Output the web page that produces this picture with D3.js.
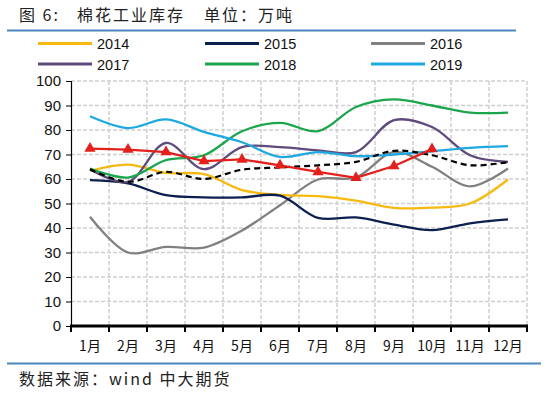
<!DOCTYPE html>
<html><head><meta charset="utf-8">
<script src="https://cdn.jsdelivr.net/npm/d3@7"></script>
<style>
html,body{margin:0;padding:0;background:#fff;}
svg{display:block;}
</style>
</head><body>
<svg id="chart" width="550" height="398"></svg>
<script>
const months = ["1月","2月","3月","4月","5月","6月","7月","8月","9月","10月","11月","12月"];
const yTicks = [0,10,20,30,40,50,60,70,80,90,100];
const s2014 = [63.3,65.9,62.5,62,55.5,53.5,53,51.2,48.2,48.3,50,59.8];
const s2015 = [59.5,58.2,53.4,52.5,52.5,53.2,44.1,44.3,41.4,39.1,41.9,43.5];
const s2016 = [44.6,30,32.3,32,39,49.3,59.8,60.6,71,65,57,64.3];
const s2017 = [64,58.8,74.7,64,73,73,71.7,71,84,81.2,69.7,67];
const s2018 = [64.3,60.6,67.7,69.7,79.5,82.9,79.5,89.4,92.5,90,87.1,87.1];
const s2019 = [85.6,80.8,84.3,79.2,75,69,71,69.3,70,71.3,72.7,73.4];
const sRed = [72.4,72,71,67.3,68,65.6,62.9,60.5,65.3,72.2];
const sDash = [64,58.8,62.9,60,63.8,64.7,65.6,67,71.5,69.7,65.6,66.9];
const legendNames = ["2014","2015","2016","2017","2018","2019"];

const colors = {"2014":"#f7b80f","2015":"#0c1f4f","2016":"#808080","2017":"#5f4b7c","2018":"#1ba64e","2019":"#1fa9e1"};
const seriesList = [
  {name:"2014", values:s2014},
  {name:"2015", values:s2015},
  {name:"2016", values:s2016},
  {name:"2017", values:s2017},
  {name:"2018", values:s2018},
  {name:"2019", values:s2019}
];

const svg = d3.select("#chart");
const cjk = "'Noto Sans CJK SC', sans-serif";
const lat = "'Liberation Sans', Arial, sans-serif";

// title
[["图 6:",19],["棉花工业库存",77],["单位：万吨",204]].forEach(([t,tx])=>{
  svg.append("text").attr("x",tx).attr("y",21)
    .attr("font-family",cjk).attr("font-size",16).attr("fill","#222")
    .attr("letter-spacing",2).attr("xml:space","preserve").text(t);
});
svg.append("line").attr("x1",7).attr("x2",516).attr("y1",30.5).attr("y2",30.5)
  .attr("stroke","#4b88bd").attr("stroke-width",2);

// legend
legendNames.forEach((n,i)=>{
  const col = i%3, row = Math.floor(i/3);
  const lx = [38,205,371][col], ly = 43.5 + row*20.5;
  svg.append("line").attr("x1",lx).attr("x2",lx+54).attr("y1",ly).attr("y2",ly)
    .attr("stroke",colors[n]).attr("stroke-width",3.2);
  svg.append("text").attr("x",lx+59).attr("y",ly+5.5)
    .attr("font-family",lat).attr("font-size",14.5).attr("fill","#111").text(n);
});

const x = d3.scaleBand().domain(months).range([71,527]);
const y = d3.scaleLinear().domain([0,100]).range([326,81]);
const cx = m => x(m) + x.bandwidth()/2;

// grid
const g = svg.append("g");
g.selectAll(".hg").data(yTicks.slice(1)).enter().append("line")
  .attr("x1",71).attr("x2",527).attr("y1",d=>y(d)).attr("y2",d=>y(d))
  .attr("stroke","#cfcfcf").attr("stroke-width",1.5).attr("stroke-dasharray","4,2");
const edges = months.map(m=>x(m)+x.bandwidth());
g.selectAll(".vg").data(edges).enter().append("line")
  .attr("x1",d=>d).attr("x2",d=>d).attr("y1",81).attr("y2",326)
  .attr("stroke","#cfcfcf").attr("stroke-width",1.5).attr("stroke-dasharray","4,2");

// y axis
const ya = svg.append("g").attr("transform","translate(71,0)")
  .call(d3.axisLeft(y).tickValues(yTicks).tickSize(5).tickPadding(5));
ya.select(".domain").attr("stroke","#000").attr("stroke-width",1.2);
ya.selectAll(".tick line").attr("stroke","#000");
ya.selectAll("text").attr("font-family",lat).attr("font-size",15).attr("fill","#111");

// x axis
const xa = svg.append("g").attr("transform","translate(0,326)")
  .call(d3.axisBottom(x).tickSize(0).tickPadding(15));
xa.select(".domain").remove();
xa.selectAll("text").attr("font-family",cjk).attr("font-size",14).attr("fill","#111");
svg.append("line").attr("x1",70).attr("x2",528).attr("y1",y(0)).attr("y2",y(0))
  .attr("stroke","#000").attr("stroke-width",3);
svg.selectAll(".xt").data([x(months[0])].concat(edges)).enter().append("line")
  .attr("x1",d=>d).attr("x2",d=>d).attr("y1",326).attr("y2",332)
  .attr("stroke","#000").attr("stroke-width",2);

// lines
const smooth = d3.line().x((d,i)=>cx(months[i])).y(d=>y(d)).curve(d3.curveCatmullRom.alpha(0.5));
const straight = d3.line().x((d,i)=>cx(months[i])).y(d=>y(d));
const order = ["2016","2014","2015","2017","2018","2019"];
order.forEach(n=>{
  const s = seriesList.find(d=>d.name===n);
  svg.append("path").attr("d",smooth(s.values)).attr("fill","none")
    .attr("stroke",colors[n]).attr("stroke-width",2.3);
});
svg.append("path").attr("d",smooth(sDash)).attr("fill","none")
  .attr("stroke","#000").attr("stroke-width",2.2).attr("stroke-dasharray","6,4");
svg.append("path").attr("d",straight(sRed)).attr("fill","none")
  .attr("stroke","#e3201b").attr("stroke-width",2.3);
svg.selectAll(".mk").data(sRed).enter().append("path")
  .attr("d",d3.symbol().type(d3.symbolTriangle).size(55))
  .attr("transform",(d,i)=>`translate(${cx(months[i])},${y(d)})`)
  .attr("fill","#e3201b");

// footer
svg.append("line").attr("x1",7).attr("x2",541).attr("y1",363.5).attr("y2",363.5)
  .attr("stroke","#4b88bd").attr("stroke-width",2);
svg.append("text").attr("x",19).attr("y",385)
  .attr("font-family",cjk).attr("font-size",16).attr("fill","#222")
  .attr("letter-spacing",2).attr("xml:space","preserve")
  .text("数据来源：wind 中大期货");
</script>
</body></html>
